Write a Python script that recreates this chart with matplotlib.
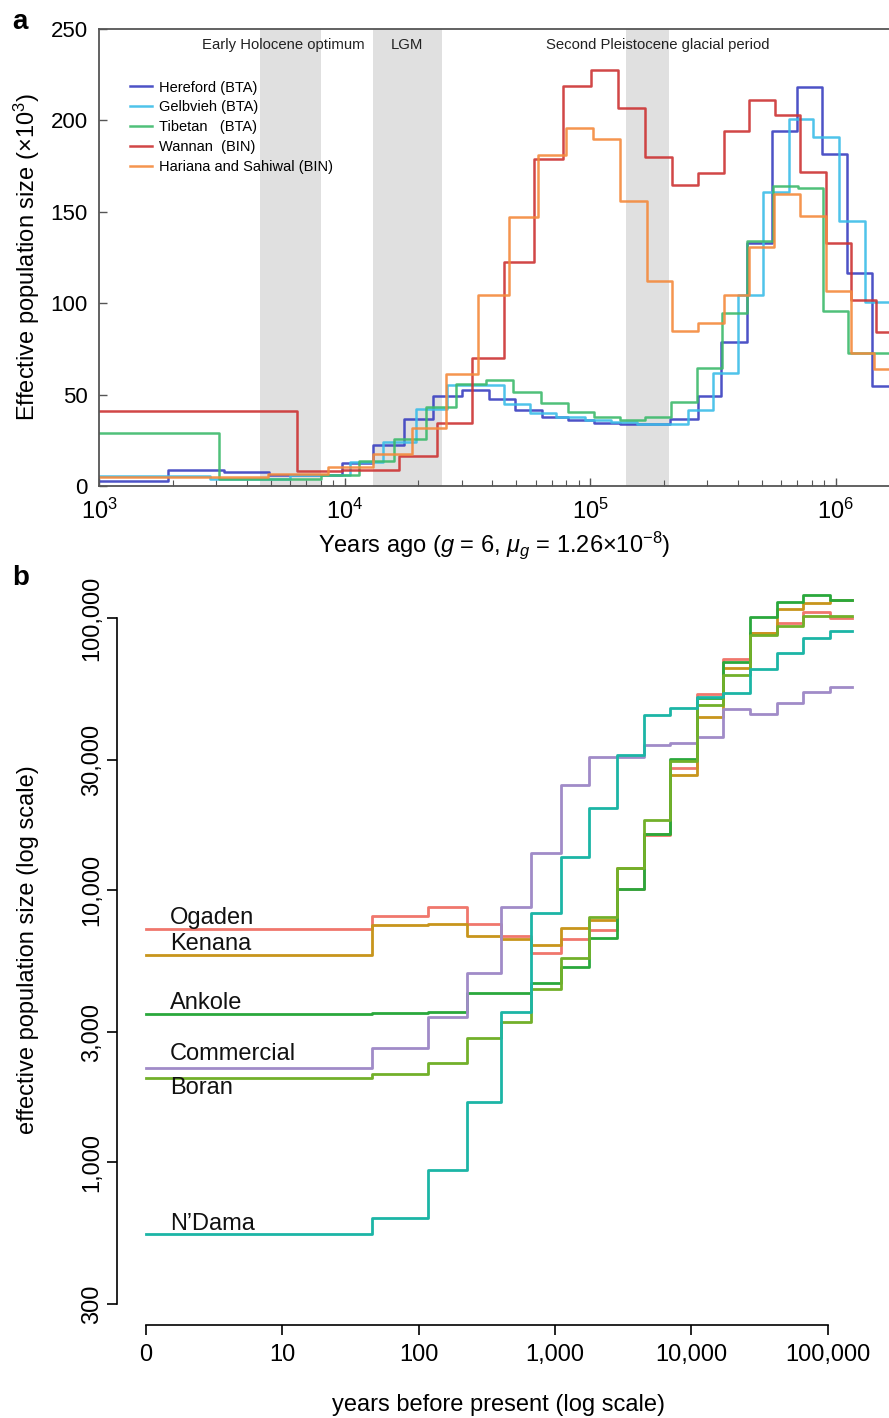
import numpy as np
import matplotlib
matplotlib.use("Agg")
import matplotlib.pyplot as plt
from matplotlib.ticker import FixedLocator, FuncFormatter, LogLocator, NullFormatter

plt.rcParams["font.family"] = ["Liberation Sans", "DejaVu Sans"]
plt.rcParams["mathtext.fontset"] = "custom"
plt.rcParams["mathtext.rm"] = "Liberation Sans"
plt.rcParams["mathtext.it"] = "Liberation Sans:italic"

# ---------------- panel a data (years ago, Ne x10^3) ----------------
a_names = ["Hereford (BTA)", "Gelbvieh (BTA)", "Tibetan   (BTA)", "Wannan  (BIN)",
           "Hariana and Sahiwal (BIN)"]
a_colors = ["#3a3fc0", "#3cbde8", "#3dba6c", "#cc3333", "#f48a3c"]

hereford_x = [1000, 1910, 3230, 4920, 9770, 13060, 17470, 22920, 30110, 38790, 49510,
              63730, 81300, 103800, 132400, 211800, 275300, 341800, 436500, 551000,
              697000, 881000, 1114000, 1409000]
hereford_y = [3, 8.8, 7.7, 6, 12.6, 22.4, 36.6, 49, 52.5, 47.6, 41.6,
              37.7, 36, 34.5, 34, 36.6, 49, 79, 133, 194,
              218, 181.6, 116.5, 54.7]

gelbvieh_x = [1000, 2830, 6000, 10520, 14350, 19540, 26150, 44670, 57000, 73000, 95000,
              122000, 155300, 250700, 316700, 400900, 507200, 647000, 809000, 1033000,
              1318000]
gelbvieh_y = [5.5, 3.8, 6, 13, 24, 42, 55, 45, 40, 37.5, 36,
              35, 34, 41.6, 62, 104.5, 161, 201, 191, 145,
              100.6]

tibetan_x = [1000, 3080, 8020, 11450, 15910, 21470, 28440, 37700, 48560, 63140, 81300,
             103800, 132400, 167400, 213000, 273100, 345000, 436500, 556000, 703000,
             889000, 1124000]
tibetan_y = [29, 3.8, 6, 13.7, 25.7, 43, 56, 58, 51.6, 45.4, 40.5,
             37.5, 36, 37.7, 46, 64.5, 94.6, 134, 164, 163,
             96, 72.7]

wannan_x = [1000, 6400, 9800, 16700, 23800, 33000, 44700, 59200, 77600, 100900, 130000,
            167400, 215800, 275300, 351500, 444600, 567000, 716000, 914000, 1156000,
            1462000]
wannan_y = [41, 8, 9, 16.5, 34.5, 70, 122.5, 179, 219, 227.5, 207,
            180, 164.5, 171, 194, 211, 203, 171.5, 133, 102,
            84]

hariana_x = [1000, 4900, 8570, 13060, 18830, 25900, 34990, 46810, 61420, 79800, 102800,
             132400, 170700, 215800, 275300, 351500, 444600, 561000, 716000, 914000,
             1156000, 1435000]
hariana_y = [5, 6.5, 10.5, 17.5, 32, 61, 104.5, 147, 181, 196, 190,
             156, 112, 85, 89, 104.5, 131, 160, 147.7, 106.7,
             73, 64]

a_x = [hereford_x, gelbvieh_x, tibetan_x, wannan_x, hariana_x]
a_y = [hereford_y, gelbvieh_y, tibetan_y, wannan_y, hariana_y]

bands = [(4530, 8020), (13060, 24950), (140000, 210000)]
band_labels = ["Early Holocene optimum", "LGM", "Second Pleistocene glacial period"]
band_label_x = [5620, 17990, 189000]

# ---------------- panel b data ----------------
b_edges = [1, 45.5, 117, 226, 402, 668, 1109, 1778, 2858, 4510, 6990, 11030,
           17110, 27000, 42650, 66100, 104300, 151000]
b_names = ["Ogaden", "Kenana", "Ankole", "Commercial", "Boran", "N\u2019Dama"]
b_colors = ["#f0776c", "#c8951c", "#2aa83c", "#a08bc8", "#72b02a", "#1cb5a6"]
ogaden = [7200, 8020, 8690, 7480, 6800, 5850, 6590, 7130, 10100, 15900, 28000, 52400,
          70500, 87800, 96100, 105500, 100300]
kenana = [5770, 7430, 7530, 6800, 6590, 6280, 7230, 7760, 12000, 16000, 26500, 43400,
          65300, 88000, 107600, 114000, 116000]
ankole = [3500, 3520, 3550, 4190, 4170, 4540, 5200, 6680, 10100, 16100, 30200, 50700,
          69100, 101000, 114200, 121200, 116000]
commercial = [2210, 2620, 3420, 4940, 8690, 13640, 24300, 30700, 30700, 34100, 34600,
              36600, 46100, 44200, 48800, 53600, 55800]
boran = [2040, 2100, 2305, 2850, 3280, 4340, 5610, 7980, 12000, 18100, 29800, 47900,
         61600, 86600, 93600, 101400, 101400]
ndama = [542, 621, 935, 1667, 3560, 8200, 13250, 19950, 31300, 44000, 46800, 51400,
         52900, 65000, 74100, 84200, 89600]
b_values = [ogaden, kenana, ankole, commercial, boran, ndama]
b_label_y = [7890, 6320, 3850, 2490, 1870, 591]
b_yticks = [300, 1000, 3000, 10000, 30000, 100000]
b_xticks = [1, 10, 100, 1000, 10000, 100000]
b_xticklabels = ["0", "10", "100", "1,000", "10,000", "100,000"]

W, H = 889, 1418
fig = plt.figure(figsize=(W / 100, H / 100), dpi=100)


def px_axes(left, top, right, bottom):
    return fig.add_axes([left / W, 1 - bottom / H, (right - left) / W, (bottom - top) / H])


# ================= panel a =================
ax = px_axes(99, 29, 889, 486)
for (lo, hi) in bands:
    ax.axvspan(lo, hi, color="#e0e0e0", lw=0, zorder=0)
for xs, ys, c, name in zip(a_x, a_y, a_colors, a_names):
    ax.step(xs + [1.8e6], ys + [ys[-1]], where="post", color=c, lw=1.8, alpha=0.9, label=name)

ax.set_xscale("log")
ax.set_xlim(1000, 10 ** (3 + 790 / 245.5))
ax.set_ylim(0, 250)
ax.set_yticks([0, 50, 100, 150, 200, 250])
ax.xaxis.set_major_locator(LogLocator(base=10))
ax.xaxis.set_minor_locator(LogLocator(base=10, subs=np.arange(2, 10)))
ax.xaxis.set_minor_formatter(NullFormatter())
ax.tick_params(axis="y", which="major", direction="in", length=6, width=1,
               labelsize=16, color="#555555", pad=8)
ax.tick_params(axis="x", which="major", direction="in", length=6, width=1,
               labelsize=17, color="#555555", pad=9)
ax.tick_params(axis="x", which="minor", direction="in", length=4, width=0.8, color="#555555")
for s in ["left", "bottom", "top"]:
    ax.spines[s].set_color("#555555")
    ax.spines[s].set_linewidth(1.3)
ax.spines["right"].set_visible(False)
ax.set_ylabel("Effective population size (\u00d710$^3$)", fontsize=17, labelpad=6)
ax.set_xlabel("Years ago ($g$ = 6, $\\mu_g$ = 1.26\u00d710$^{-8}$)", fontsize=17, labelpad=4)
for lab, xpos in zip(band_labels, band_label_x):
    ax.text(xpos, 0.965, lab, transform=ax.get_xaxis_transform(), ha="center", va="center",
            fontsize=10.7, color="#222222")
ax.legend(loc="upper left", bbox_to_anchor=(0.032, 0.9), frameon=False, fontsize=10.5,
          handlelength=1.5, handletextpad=0.5, labelspacing=0.4, borderaxespad=0)

# ================= panel b =================
bx = px_axes(117, 575, 880, 1325)
for vals, c in zip(b_values, b_colors):
    bx.step(b_edges, vals + [vals[-1]], where="post", color=c, lw=2.0)
for name, yv in zip(b_names, b_label_y):
    bx.text(1.5, yv, name, fontsize=17, ha="left", va="center", color="#111111")
bx.set_xscale("log")
bx.set_yscale("log")
bx.set_xlim(10 ** (-29 / 136.3), 10 ** (734 / 136.3))
bx.set_ylim(10 ** (3 - 163 / 272), 10 ** (3 + 587 / 272))
bx.xaxis.set_major_locator(FixedLocator(b_xticks))
bx.xaxis.set_minor_locator(FixedLocator([]))
bx.set_xticklabels(b_xticklabels)
bx.yaxis.set_major_locator(FixedLocator(b_yticks))
bx.yaxis.set_minor_locator(FixedLocator([]))
bx.yaxis.set_major_formatter(FuncFormatter(lambda v, p: f"{int(v):,}"))
for lab in bx.get_yticklabels():
    lab.set_rotation(90)
    lab.set_va("center")
bx.tick_params(axis="x", which="major", direction="out", length=7, width=1.2,
               labelsize=17, pad=7)
bx.tick_params(axis="y", which="major", direction="out", length=7, width=1.2,
               labelsize=17, pad=3)
bx.spines["top"].set_visible(False)
bx.spines["right"].set_visible(False)
bx.spines["left"].set_bounds(300, 100000)
bx.spines["bottom"].set_bounds(1, 100000)
bx.spines["left"].set_linewidth(1.2)
bx.spines["bottom"].set_linewidth(1.2)
bx.set_ylabel("effective population size (log scale)", fontsize=17, labelpad=30)
bx.set_xlabel("years before present (log scale)", fontsize=17, labelpad=20)

fig.text(12 / W, 1 - 22 / H, "a", fontsize=20, fontweight="bold", va="center")
fig.text(12 / W, 1 - 578 / H, "b", fontsize=20, fontweight="bold", va="center")

fig.savefig("out.png", dpi=100)
